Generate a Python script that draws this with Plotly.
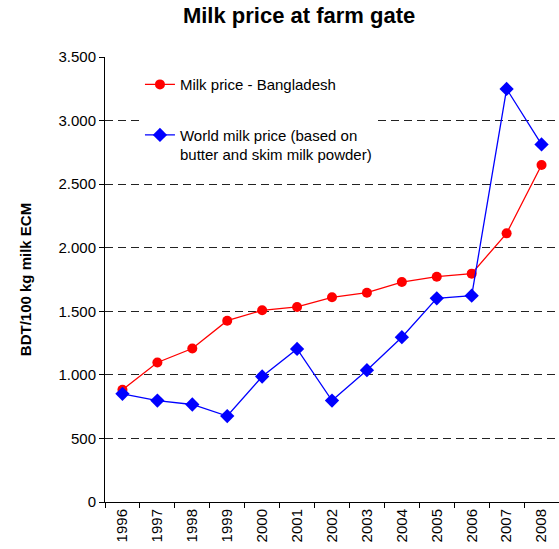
import plotly.graph_objects as go

# Milk price data, BDT per 100 kg energy-corrected milk
years = ["1996", "1997", "1998", "1999", "2000", "2001", "2002",
         "2003", "2004", "2005", "2006", "2007", "2008"]
bangladesh = [882, 1097, 1207, 1426, 1508, 1534, 1610, 1646, 1730, 1772, 1796, 2113, 2650]
world = [851, 798, 767, 676, 987, 1204, 798, 1037, 1296, 1602, 1623, 3249, 2812]
y_ticks = [0, 500, 1000, 1500, 2000, 2500, 3000, 3500]

FONT = "Liberation Sans, Arial, sans-serif"

fig = go.Figure()
fig.add_trace(go.Scatter(
    x=years, y=bangladesh, mode="lines+markers",
    name="Milk price - Bangladesh", legendgroup="bd",
    line=dict(color="#FF0000", width=1.3),
    marker=dict(symbol="circle", size=10, color="#FF0000"),
))
fig.add_trace(go.Scatter(
    x=years, y=world, mode="lines+markers",
    name="World milk price (based on<br>butter and skim milk powder)", legendgroup="world",
    line=dict(color="#0000FF", width=1.3),
    marker=dict(symbol="diamond", size=11, color="#0000FF"),
))

fig.update_layout(
    width=559, height=549,
    margin=dict(l=105, r=0, t=57, b=47),
    paper_bgcolor="white", plot_bgcolor="white",
    font=dict(family=FONT, size=15, color="black"),
    separators=",.",
    title=dict(text="<b>Milk price at farm gate</b>", x=0.535, xanchor="center",
               y=0.973, yanchor="middle", font=dict(size=22, family=FONT)),
    showlegend=True,
    legend=dict(x=0.077, y=0.975, xanchor="left", yanchor="top",
                bgcolor="white", borderwidth=0, tracegroupgap=28,
                valign="top", font=dict(size=15, family=FONT)),
)

fig.update_xaxes(
    type="category", range=[-0.5, 12.5],
    showline=True, linecolor="black", linewidth=1,
    ticks="outside", ticklen=5, tickcolor="black", tickson="boundaries",
    tickangle=-90, tickfont=dict(size=15), showgrid=False,
)
fig.update_yaxes(
    range=[0, 3500], tickvals=y_ticks, tickformat=",d",
    showline=True, linecolor="black", linewidth=1,
    ticks="outside", ticklen=5, tickcolor="black",
    showgrid=True, gridcolor="#222222", gridwidth=1, griddash="8px,5px",
    zeroline=False, tickfont=dict(size=15),
    title=dict(text="<b>BDT/100 kg milk ECM</b>", standoff=23, font=dict(size=15)),
)

fig.write_html("out.html")
